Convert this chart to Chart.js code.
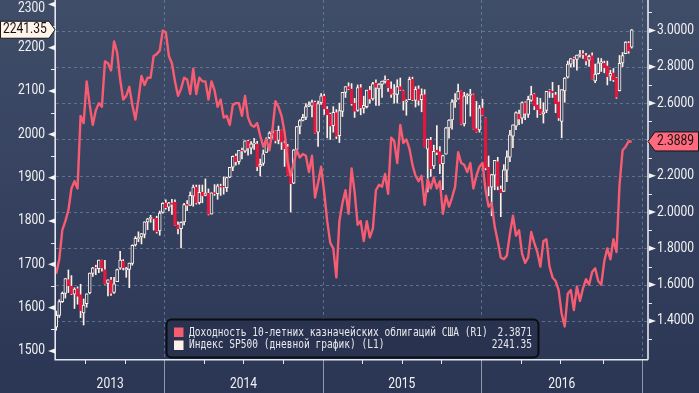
<!DOCTYPE html>
<html><head><meta charset="utf-8">
<script src="https://cdn.jsdelivr.net/npm/chart.js@4.4.1/dist/chart.umd.min.js"></script>
<style>html,body{margin:0;padding:0;background:#2e3a58;overflow:hidden}canvas{display:block}</style>
</head><body>
<canvas id="c" width="699" height="393"></canvas>
<script>
// ---- DATA (weekly bars, first week ending 2013-04-26, last bar 2016-12-07) ----
const spxOpen = [
1555,1582,1614,1633,1665,1650,1631,1644,1630,1588,1609,1634,1679,1692,1690,1709,1688,1656,1664,1635,1660,1691,1707,1687,1688,1702,1745,1759,1763,1769,1798,1806,1806,1806,1777,1820,
1842,1832,1842,1843,1791,1782,1798,1839,1836,1857,1878,1842,1867,1859,1864,1816,1865,1863,1880,1880,1877,1901,1924,1949,1937,1963,1961,1984,1968,1978,1978,1926,1933,1958,1992,2004,2007,1986,2009,1979,1971,1906,1887,1965,2018,2032,2039,2065,2065,2074,2005,2073,
2088,2058,2046,2020,2050,1997,2053,2097,2110,2105,2072,2055,2108,2060,2064,2102,2082,2119,2105,2115,2122,2125,2105,2092,2092,2110,2101,2075,2080,2127,2078,2105,2080,2092,1966,1987,1927,1963,1960,1932,1954,2015,2033,2075,2081,2100,2024,2089,2090,2092,2013,2010,
2061,2038,1924,1878,1906,1937,1874,1868,1917,1947,1996,2019,2047,2037,2073,2046,2078,2093,2068,2058,2047,2055,2100,2100,2091,2075,2030,2100,2132,2162,2175,2173,2183,2186,2182,2171,2182,2123,2140,2164,2164,2158,2134,2142,2129,2101,2165,2186,2210,2201];
const spxHigh = [
1592,1618,1636,1667,1687,1674,1646,1648,1654,1620,1632,1680,1693,1698,1710,1710,1709,1664,1670,1670,1689,1730,1711,1693,1703,1745,1764,1775,1771,1798,1806,1813,1806,1811,1823,1842,
1849,1843,1850,1849,1798,1798,1841,1847,1867,1883,1883,1883,1883,1897,1874,1865,1884,1885,1885,1902,1901,1924,1950,1955,1963,1968,1985,1986,1983,1991,1984,1943,1964,1992,2006,2011,2008,2019,2010,1985,1977,1912,1965,2018,2034,2046,2071,2075,2079,2077,2077,2094,
2093,2064,2049,2064,2057,2072,2097,2110,2119,2117,2083,2114,2115,2088,2102,2111,2120,2126,2117,2123,2135,2127,2121,2115,2126,2130,2102,2080,2132,2132,2110,2112,2105,2103,1989,1993,1975,2020,1972,1952,2016,2034,2080,2094,2116,2100,2097,2094,2104,2093,2076,2067,
2081,2038,1950,1908,1940,1947,1881,1930,1962,2009,2022,2052,2056,2075,2075,2088,2111,2094,2085,2083,2073,2094,2103,2120,2097,2113,2103,2131,2169,2175,2178,2183,2194,2193,2187,2183,2188,2162,2176,2175,2169,2169,2148,2152,2131,2182,2189,2214,2214,2242];
const spxLow = [
1548,1577,1612,1622,1635,1630,1598,1608,1577,1560,1601,1632,1672,1676,1681,1684,1654,1627,1628,1633,1660,1688,1687,1670,1646,1698,1742,1752,1747,1761,1780,1797,1779,1772,1767,1818,
1827,1823,1815,1790,1770,1738,1791,1824,1836,1834,1839,1839,1842,1858,1814,1816,1859,1850,1859,1862,1868,1900,1916,1929,1931,1943,1958,1952,1955,1965,1916,1904,1928,1958,1990,1991,1980,1978,1965,1926,1906,1821,1886,1964,2001,2031,2034,2064,2040,2002,1972,2069,
2046,1992,1988,2005,1990,1981,2041,2085,2103,2067,2039,2053,2045,2049,2061,2072,2079,2067,2067,2085,2118,2099,2085,2072,2072,2101,2056,2044,2080,2078,2063,2067,2052,1971,1867,1903,1921,1953,1909,1872,1954,1991,2012,2062,2081,2022,2019,2070,2042,2012,2005,2005,
2044,1918,1858,1812,1872,1872,1810,1868,1891,1937,1969,2011,2022,2025,2034,2039,2076,2057,2039,2046,2026,2050,2085,2085,2050,2032,1992,2074,2130,2155,2156,2148,2178,2175,2160,2157,2128,2119,2139,2145,2142,2114,2124,2122,2083,2100,2156,2186,2187,2199];
const spxClose = [
1582,1614,1633,1667,1650,1631,1643,1626,1593,1606,1632,1680,1692,1691,1710,1691,1655,1664,1633,1655,1688,1710,1692,1691,1703,1744,1760,1762,1771,1798,1805,1806,1805,1775,1818,1841,
1831,1842,1838,1790,1782,1797,1838,1836,1859,1878,1841,1866,1858,1865,1815,1865,1863,1881,1878,1878,1900,1924,1949,1937,1963,1961,1985,1968,1978,1978,1925,1931,1955,1988,2003,2007,1985,2010,1982,1967,1906,1886,1964,2018,2032,2039,2064,2068,2075,2002,2071,2089,
2058,2045,2019,2051,1995,2055,2097,2110,2105,2071,2053,2108,2061,2067,2102,2081,2117,2108,2116,2123,2126,2107,2092,2094,2110,2102,2077,2077,2127,2080,2104,2078,2092,1971,1989,1921,1961,1958,1931,1951,2015,2033,2075,2079,2099,2023,2089,2090,2092,2012,2005,2061,
2044,1922,1880,1907,1940,1880,1865,1918,1948,1999,2022,2050,2035,2073,2048,2081,2092,2065,2057,2047,2052,2099,2099,2096,2071,2037,2103,2130,2162,2175,2174,2183,2184,2184,2169,2180,2128,2139,2165,2168,2153,2133,2141,2126,2085,2164,2182,2213,2192,2241.35];
const yield10 = [
1.66,1.74,1.90,1.95,2.01,2.13,2.17,2.13,2.53,2.49,2.72,2.59,2.48,2.56,2.60,2.58,2.83,2.82,2.78,2.94,2.88,2.73,2.62,2.64,2.69,2.59,2.51,2.62,2.75,2.70,2.74,2.74,2.86,2.87,2.89,3.00,
2.99,2.86,2.82,2.72,2.64,2.68,2.74,2.73,2.65,2.79,2.65,2.74,2.72,2.72,2.62,2.72,2.67,2.58,2.62,2.52,2.53,2.48,2.59,2.60,2.60,2.53,2.64,2.52,2.48,2.47,2.49,2.42,2.36,2.40,2.34,2.45,2.61,2.58,2.53,2.44,2.28,2.20,2.27,2.34,2.30,2.32,2.31,2.22,2.31,2.08,2.16,2.25,
2.11,1.95,1.83,1.80,1.64,1.95,2.05,2.12,1.99,2.24,2.11,1.93,1.95,1.84,1.95,1.86,1.91,2.12,2.15,2.14,2.21,2.10,2.41,2.39,2.27,2.48,2.38,2.40,2.35,2.26,2.20,2.17,2.20,2.04,2.18,2.13,2.19,2.13,2.17,1.99,2.09,2.03,2.08,2.14,2.33,2.27,2.26,2.22,2.27,2.13,2.20,2.25,
2.27,2.12,2.03,2.05,1.92,1.84,1.75,1.74,1.76,1.88,1.98,1.87,1.90,1.77,1.72,1.75,1.89,1.83,1.78,1.70,1.84,1.85,1.70,1.64,1.62,1.57,1.44,1.37,1.55,1.57,1.46,1.59,1.51,1.58,1.63,1.60,1.67,1.69,1.62,1.60,1.73,1.80,1.74,1.85,1.78,2.15,2.34,2.36,2.39,2.387];
const yearLabels = ['2013','2014','2015','2016'];
const yearStarts = [36, 88, 140, 193];           // first weekly bar of 2014, 2015, 2016, 2017
const quarterStarts = [10, 23, 49, 62, 75, 101, 114, 127, 153, 166, 180];
const leftTicks = [1500,1600,1700,1800,1900,2000,2100,2200,2300];
const leftMinor = [1550,1650,1750,1850,1950,2050,2150,2250];
const rightTicks = [1.4,1.6,1.8,2.0,2.2,2.4,2.6,2.8,3.0];
const rightMinor = [1.3,1.5,1.7,1.9,2.1,2.3,2.5,2.7,2.9,3.1];
const lastSpx = 2241.35;
const lastYield = 2.3889;
const legendNames = ['Доходность 10-летних казначейских облигаций США (R1)', 'Индекс SP500 (дневной график) (L1)'];
const legendValues = ['2.3871', '2241.35'];

// ---- styles ----
const RED_LINE = '#f85c72';
const RED_BAR = '#e3173d';
const CREAM = '#fff1e7';
const BG_TOP = [64,77,105], BG_BOT = [43,54,84];
function bgAt(y){ const t=Math.max(0,Math.min(1,y/393)); const c=BG_TOP.map((v,k)=>Math.round(v+(BG_BOT[k]-v)*t)); return `rgb(${c[0]},${c[1]},${c[2]})`; }

const up = spxOpen.map((o,i)=> spxClose[i] >= o);
const wickData = spxLow.map((l,i)=>({x:i, y:[l, spxHigh[i]]}));
const bodyData = spxOpen.map((o,i)=>({x:i, y:[Math.min(o,spxClose[i]), Math.max(o,spxClose[i])]}));
const yieldData = yield10.map((v,i)=>({x:i, y:v}));

function txt(ctx, s, x, y, align, font, color, sx){
  ctx.save(); ctx.font=font; ctx.fillStyle=color; ctx.textBaseline='middle'; ctx.textAlign=align;
  ctx.translate(x,y); ctx.scale(sx,1); ctx.fillText(s,0,0); ctx.restore();
}
const AXFONT = '14px Roboto';
const AXSX = 0.86;

const deco = {
  id:'deco',
  beforeDraw(chart){
    const {ctx,width,height}=chart;
    const g=ctx.createLinearGradient(0,0,0,height);
    g.addColorStop(0,bgAt(0)); g.addColorStop(1,bgAt(393));
    ctx.save(); ctx.fillStyle=g; ctx.fillRect(0,0,width,height); ctx.restore();
  },
  beforeDatasetsDraw(chart){
    const {ctx,chartArea:a,scales}=chart;
    ctx.save();
    ctx.strokeStyle='rgba(118,148,176,0.6)'; ctx.lineWidth=1; ctx.setLineDash([3,3]);
    rightTicks.forEach(v=>{ const y=Math.round(scales.y1.getPixelForValue(v))+0.5; ctx.beginPath(); ctx.moveTo(a.left,y); ctx.lineTo(a.right,y); ctx.stroke(); });
    yearStarts.forEach(s=>{ const x=Math.round(scales.x.getPixelForValue(s-0.5))+0.5; if(x<a.right){ ctx.beginPath(); ctx.moveTo(x,a.top); ctx.lineTo(x,a.bottom); ctx.stroke(); }});
    ctx.restore();
  },
  afterDatasetsDraw(chart){
    const {ctx,chartArea:a,scales,width,height}=chart;
    const X=scales.x, L=scales.y, R=scales.y1;
    ctx.save();
    // year separators under axis
    ctx.strokeStyle='#8f98ab'; ctx.lineWidth=1;
    yearStarts.forEach(s=>{ const x=Math.round(X.getPixelForValue(s-0.5))+0.5; ctx.beginPath(); ctx.moveTo(x,a.bottom); ctx.lineTo(x,height); ctx.stroke(); });
    // axes lines
    ctx.strokeStyle='#e4e8ef'; ctx.lineWidth=1.6;
    ctx.beginPath(); ctx.moveTo(a.left-0.8,0); ctx.lineTo(a.left-0.8,a.bottom+0.8); ctx.lineTo(a.right,a.bottom+0.8); ctx.stroke();
    ctx.beginPath(); ctx.moveTo(a.right,0); ctx.lineTo(a.right,a.bottom+0.8); ctx.stroke();
    // quarter ticks
    ctx.lineWidth=1;
    quarterStarts.forEach(s=>{ const x=Math.round(X.getPixelForValue(s-0.5))+0.5; ctx.beginPath(); ctx.moveTo(x,a.bottom); ctx.lineTo(x,a.bottom+5); ctx.stroke(); });
    // year labels
    yearLabels.forEach((lab,k)=>{
      const l = k===0 ? a.left : X.getPixelForValue(yearStarts[k-1]-0.5);
      const r = X.getPixelForValue(yearStarts[k]-0.5);
      txt(ctx, lab, (l+r)/2, 384, 'center', AXFONT, '#f2f2f2', AXSX);
    });
    // left axis
    ctx.fillStyle='#f4f4f4';
    leftMinor.forEach(v=>{ const y=Math.round(L.getPixelForValue(v))+0.5; ctx.beginPath(); ctx.moveTo(a.left-5,y); ctx.lineTo(a.left,y); ctx.stroke(); });
    leftTicks.forEach(v=>{
      const y=L.getPixelForValue(v);
      ctx.beginPath(); ctx.moveTo(a.left-8,y); ctx.lineTo(a.left-1,y-2.6); ctx.lineTo(a.left-1,y+2.6); ctx.closePath(); ctx.fill();
      txt(ctx, String(v), 45, Math.max(8.5,y), 'right', AXFONT, '#f2f2f2', AXSX);
    });
    // right axis
    const by = R.getPixelForValue(lastYield);
    rightMinor.forEach(v=>{ const y=Math.round(R.getPixelForValue(v))+0.5; if(y>0){ ctx.beginPath(); ctx.moveTo(a.right,y); ctx.lineTo(a.right+4,y); ctx.stroke(); }});
    rightTicks.forEach(v=>{
      const y=R.getPixelForValue(v);
      if (Math.abs(y-by)<12) return;
      ctx.beginPath(); ctx.moveTo(a.right+8,y); ctx.lineTo(a.right+1,y-2.6); ctx.lineTo(a.right+1,y+2.6); ctx.closePath(); ctx.fill();
      txt(ctx, v.toFixed(4), a.right+9, y, 'left', AXFONT, '#f2f2f2', AXSX);
    });
    // right badge
    ctx.beginPath(); ctx.moveTo(a.right,by); ctx.lineTo(a.right+7,by-9.5); ctx.lineTo(width-0.5,by-9.5); ctx.lineTo(width-0.5,by+9.5); ctx.lineTo(a.right+7,by+9.5); ctx.closePath();
    ctx.fillStyle='#ff6a7e'; ctx.fill(); ctx.strokeStyle='#141414'; ctx.lineWidth=1; ctx.stroke();
    txt(ctx, lastYield.toFixed(4), a.right+9, by, 'left', AXFONT, '#111', AXSX);
    // left badge
    const ly = L.getPixelForValue(lastSpx);
    ctx.beginPath(); ctx.moveTo(0.5,ly-8.5); ctx.lineTo(a.left-7,ly-8.5); ctx.lineTo(a.left-1,ly); ctx.lineTo(a.left-7,ly+8.5); ctx.lineTo(0.5,ly+8.5); ctx.closePath();
    ctx.fillStyle='#fff3ea'; ctx.fill(); ctx.strokeStyle='#1a1a1a'; ctx.stroke();
    txt(ctx, lastSpx.toFixed(2), 3, ly, 'left', AXFONT, '#111', AXSX);
    // legend
    ctx.beginPath(); ctx.roundRect(166.5,319.5,372,38,5);
    ctx.fillStyle='#29334f'; ctx.fill(); ctx.strokeStyle='#090c13'; ctx.lineWidth=2; ctx.stroke();
    const LF = '11.5px "DejaVu Sans Mono"', LSX = 0.83;
    ctx.fillStyle=RED_LINE; ctx.fillRect(174,327.5,9.5,9.5);
    ctx.fillStyle=CREAM; ctx.fillRect(174,340.5,9.5,9.5);
    txt(ctx, legendNames[0], 189, 332.8, 'left', LF, '#e8e9ee', LSX);
    txt(ctx, legendNames[1], 189, 345.5, 'left', LF, '#e8e9ee', LSX);
    txt(ctx, legendValues[0], 532, 332.8, 'right', LF, '#e8e9ee', LSX);
    txt(ctx, legendValues[1], 532, 345.5, 'right', LF, '#e8e9ee', LSX);
    ctx.restore();
  }
};

new Chart(document.getElementById('c'), {
  type:'bar',
  data:{ datasets:[
    { type:'line', data:yieldData, yAxisID:'y1', xAxisID:'x', borderColor:RED_LINE, borderWidth:2.4, pointRadius:0, tension:0, order:1, borderJoinStyle:'round' },
    { type:'bar', data:bodyData, yAxisID:'y', xAxisID:'x', grouped:false, barThickness:3, minBarLength:1, order:2,
      borderSkipped:false, borderWidth:1,
      borderColor:(c)=> up[c.dataIndex] ? CREAM : RED_BAR,
      backgroundColor:(c)=>{ if(!up[c.dataIndex]) return RED_BAR; const s=c.chart.scales.y; const i=c.dataIndex; return s? bgAt(s.getPixelForValue((spxOpen[i]+spxClose[i])/2)) : bgAt(200); } },
    { type:'bar', data:wickData, yAxisID:'y', xAxisID:'x', grouped:false, barThickness:1, order:3, backgroundColor:CREAM, borderWidth:0 }
  ]},
  options:{
    responsive:false, animation:false, devicePixelRatio:1,
    layout:{ padding:0 },
    plugins:{ legend:{display:false}, tooltip:{enabled:false} },
    scales:{
      x:{ type:'linear', position:'bottom', min:-0.07, max:194.35, offset:false, grid:{display:false}, border:{display:false}, ticks:{display:false}, afterFit(s){ s.height=34; } },
      y:{ type:'linear', position:'left', min:1481.5, max:2310, grid:{display:false}, border:{display:false}, ticks:{display:false}, afterFit(s){ s.width=56; } },
      y1:{ type:'linear', position:'right', min:1.1907, max:3.168, grid:{display:false}, border:{display:false}, ticks:{display:false}, afterFit(s){ s.width=51; } }
    }
  },
  plugins:[deco]
});
</script>
</body></html>
